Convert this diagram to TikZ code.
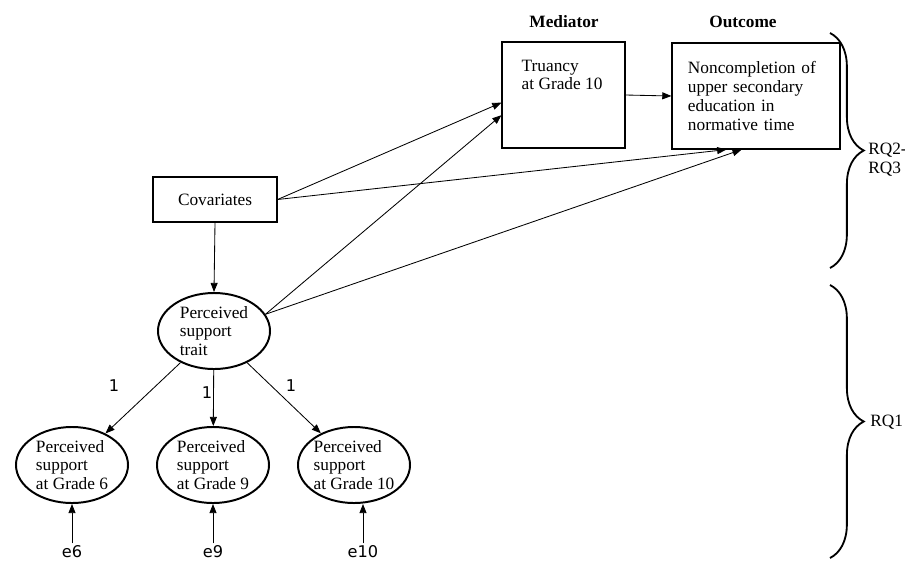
\documentclass[tikz,border=0pt]{standalone}
\usepackage{fontspec}
\setmainfont{Liberation Serif}
\newfontfamily\labelfont{DejaVu Sans}
\usetikzlibrary{positioning, arrows.meta, shapes.geometric, decorations.pathreplacing}

\begin{document}
\begin{tikzpicture}[
  x=0.025cm, y=-0.025cm,
  font=\fontsize{12.3}{13.4}\selectfont,
  box/.style={rectangle, draw, line width=0.8pt},
  latent/.style={ellipse, draw, line width=1.4pt, align=left, inner sep=-2pt,
    minimum width=2.8cm, minimum height=1.9cm},
  arrow/.style={-{Triangle[length=6.5pt, width=5pt]}, line width=0.6pt},
  head/.style={font=\fontsize{12.3}{13.4}\selectfont\bfseries},
  load/.style={font=\labelfont\fontsize{11.5}{13}\selectfont},
  rq/.style={decorate, decoration={brace, amplitude=24pt}, line width=1.3pt}
]
  \useasboundingbox (0,0) rectangle (905,562);

  % Headings
  \node[head] (medhead) at (564,22) {Mediator};
  \node[head] (outhead) at (743,22) {Outcome};

  % Observed variables
  \node[box, minimum width=3.075cm, minimum height=2.65cm] (trunc) at (563.5,95) {};
  \node[anchor=north west, inner sep=0pt, align=left] (trunctxt)
    at ([xshift=0.5cm, yshift=-0.45cm]trunc.north west) {Truancy\\at Grade 10};
  \node[box, minimum width=4.2cm, minimum height=2.65cm, text width=3.4cm,
    inner xsep=0.4cm, align=left] (outc) at (756,96)
    {Noncompletion of\\upper secondary\\education in\\normative time};
  \node[box, minimum width=3.1cm, minimum height=1.125cm] (cov) at (215,199.5) {Covariates};

  % Latent variables
  \node[latent] (trait) at (214,331) {Perceived\\support\\trait};
  \node[latent] (g6) at (72,465) {Perceived\\support\\at Grade 6};
  \node[latent] (g9) at (213,465) {Perceived\\support\\at Grade 9};
  \node[latent] (g10) at (354,465) {Perceived\\support\\at Grade 10};

  % Residuals
  \node[load, anchor=base, inner sep=1pt] (e6) at (72,557) {e6};
  \node[load, anchor=base, inner sep=1pt] (e9) at (213,557) {e9};
  \node[load, anchor=base, inner sep=1pt] (e10) at (363,557) {e10};

  % Paths
  \draw[arrow] (trunc.east) -- (outc.west);
  \draw[arrow] (cov.east) -- (trunc.187);
  \draw[arrow] (cov.east) -- (outc.241);
  \draw[arrow] (trait.18) -- (trunc.198);
  \draw[arrow] (trait.18) -- (outc.255);
  \draw[arrow] (cov.south) -- (trait.north);
  \draw[arrow] (trait) -- (g6);
  \draw[arrow] (trait) -- (g9);
  \draw[arrow] (trait) -- (g10);
  \draw[arrow] (e6.north) -- (e6.north |- g6.south);
  \draw[arrow] (e9.north) -- (e9.north |- g9.south);
  \draw[arrow] (e10.north) -- (e10.north |- g10.south);

  % Loadings
  \node[load] (w6) at (114,386) {1};
  \node[load] (w9) at (207,393) {1};
  \node[load] (w10) at (291,386) {1};

  % Research questions
  \coordinate (rqtop) at (830,33);
  \coordinate (rqmid) at (830,268);
  \coordinate (rqlow) at (830,285);
  \coordinate (rqbot) at (830,558);
  \draw[rq] (rqtop) -- (rqmid);
  \draw[rq] (rqlow) -- (rqbot);
  \node[anchor=west, align=left, inner sep=0pt] (rq23) at (868,160) {RQ2-\\RQ3};
  \node[anchor=west, inner sep=0pt] (rq1) at (870,422) {RQ1};
\end{tikzpicture}
\end{document}
